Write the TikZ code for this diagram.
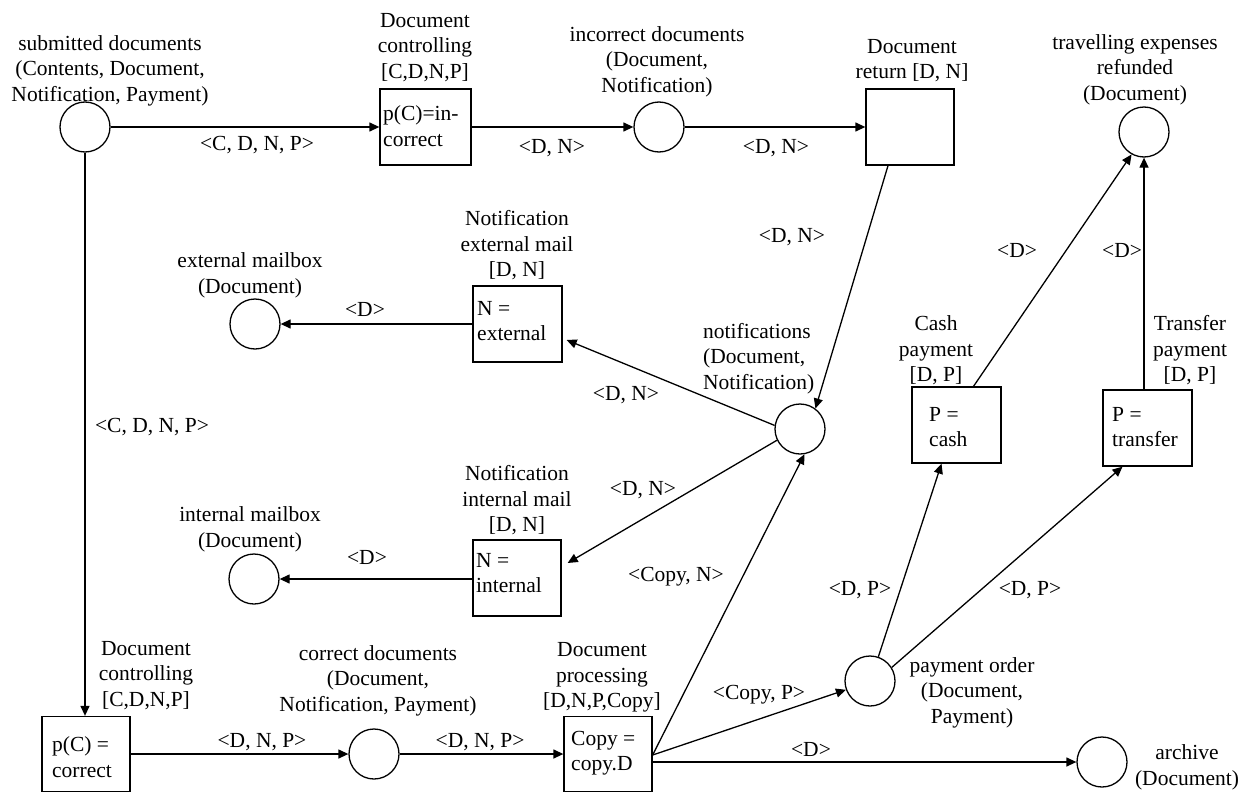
\documentclass[tikz,border=0pt]{standalone}
\usepackage{fontspec}
\setmainfont{Liberation Serif}
\usetikzlibrary{arrows.meta,calc}
\begin{document}
\begin{tikzpicture}[x=1pt,y=-1pt,
  every node/.style={font=\fontsize{21.5}{25.5}\selectfont, inner sep=0pt},
  place/.style={circle, draw, line width=1.3pt, minimum size=50pt},
  trans/.style={rectangle, draw, line width=1.3pt},
  lbl/.style={align=center, yshift=-2.5pt},
  ins/.style={yshift=-2pt},
  boxtxt/.style={align=left, anchor=west},
  arc/.style={line width=1.3pt, -{Triangle[length=10pt,width=9pt]}},
]
\useasboundingbox (0,0) rectangle (1252,792);

% places
\node[place] (sub)   at (85,127)   {};
\node[place] (inc)   at (659,127)  {};
\node[place] (trav)  at (1144,132) {};
\node[place] (extmb) at (255,324)  {};
\node[place] (intmb) at (254,579)  {};
\node[place] (notif) at (800,429)  {};
\node[place] (cd)    at (374,754)  {};
\node[place] (po)    at (870,681)  {};
\node[place] (arch)  at (1102,762) {};

% transitions
\node[trans, minimum width=91pt, minimum height=76pt] (dc1)  at (425.5,127) {};
\node[trans, minimum width=88pt, minimum height=76pt] (ret)  at (910,127)   {};
\node[trans, minimum width=89pt, minimum height=76pt] (nx)   at (517.5,324) {};
\node[trans, minimum width=88pt, minimum height=76pt] (ni)   at (517,578)   {};
\node[trans, minimum width=88pt, minimum height=75pt] (dc2)  at (86,754)    {};
\node[trans, minimum width=88pt, minimum height=75pt] (dp)   at (608,754)   {};
\node[trans, minimum width=89pt, minimum height=76pt] (cash) at (956.5,425) {};
\node[trans, minimum width=89pt, minimum height=76pt] (tr)   at (1147.5,428) {};

% guards inside the transitions
\node[boxtxt] (dc1t)  at (383,126)  {p(C)=in-\\correct};
\node[boxtxt] (dc2t)  at (52,757)   {p(C) =\\correct};
\node[boxtxt] (dpt)   at (571,753)  {Copy =\\copy.D};
\node[boxtxt] (nxt)   at (477,321)  {N =\\external};
\node[boxtxt] (nit)   at (476,573)  {N =\\internal};
\node[boxtxt] (casht) at (929,427)  {P =\\cash};
\node[boxtxt] (trt)   at (1112,427) {P =\\transfer};

% names of places and transitions
\node[lbl] (subl)  at (110,68)  {submitted documents\\(Contents, Document,\\Notification, Payment)};
\node[lbl] (dc1l)  at (425,45)  {Document\\controlling\\{}[C,D,N,P]};
\node[lbl] (incl)  at (657,59)  {incorrect documents\\(Document,\\Notification)};
\node[lbl] (retl)  at (912,58)  {Document\\return [D, N]};
\node[lbl] (travl) at (1135,67) {travelling expenses\\refunded\\(Document)};
\node[lbl] (extl)  at (250,273) {external mailbox\\(Document)};
\node[lbl] (nxl)   at (517,243) {Notification\\external mail\\{}[D, N]};
\node[lbl] (intl)  at (250,527) {internal mailbox\\(Document)};
\node[lbl] (nil)   at (517,498) {Notification\\internal mail\\{}[D, N]};
\node[align=left, anchor=west, yshift=-2.5pt] (notifl) at (703,356) {notifications\\(Document,\\Notification)};
\node[lbl] (cashl) at (936,348) {Cash\\payment\\{}[D, P]};
\node[lbl] (trl)   at (1190,348) {Transfer\\payment\\{}[D, P]};
\node[lbl] (dc2l)  at (146,673) {Document\\controlling\\{}[C,D,N,P]};
\node[lbl] (cdl)   at (378,678) {correct documents\\(Document,\\Notification, Payment)};
\node[lbl] (dpl)   at (602,675) {Document\\processing\\{}[D,N,P,Copy]};
\node[lbl] (pol)   at (972,690) {payment order\\(Document,\\Payment)};
\node[lbl] (archl) at (1187,765) {archive\\(Document)};

% arcs
\draw[arc] (sub) -- (dc1);
\draw[arc] (dc1) -- (inc);
\draw[arc] (inc) -- (ret);
\draw[arc] ($(ret.south)+(-22,0)$) -- (notif.53);
\draw[arc] (notif.172) -- ($(nx.east)+(4,16)$);
\draw[arc] (nx) -- (extmb);
\draw[arc] (notif.206) -- ($(ni.east)+(6,-15)$);
\draw[arc] (ni.west |- intmb.east) -- (intmb.east);
\draw[arc] (sub.south) -- (sub.south |- dc2.north);
\draw[arc] (dc2) -- (cd);
\draw[arc] (cd) -- (dp);
\draw[arc] ($(dp.east)+(0,1)$) -- (notif.280);
\draw[arc] ($(dp.east)+(0,1)$) -- (po.200);
\draw[arc] (dp.east |- arch.west) -- (arch.west);
\draw[arc] (po.71) -- ($(cash.south)+(-15,0)$);
\draw[arc] (po.32) -- ($(tr.south)+(-25,0)$);
\draw[arc] ($(cash.north)+(17,0)$) -- (trav.241);
\draw[arc] (trav.south |- tr.north) -- (trav.south);

% arc inscriptions
\node[ins] (a1)  at (257,143)  {<C, D, N, P>};
\node[ins] (a2)  at (552,146)  {<D, N>};
\node[ins] (a3)  at (776,146)  {<D, N>};
\node[ins] (a4)  at (792,235)  {<D, N>};
\node[ins] (a5)  at (626,393)  {<D, N>};
\node[ins] (a6)  at (365,307)  {<D>};
\node[ins] (a7)  at (643,488)  {<D, N>};
\node[ins] (a8)  at (367,555)  {<D>};
\node[ins] (a9)  at (152,425)  {<C, D, N, P>};
\node[ins] (a10) at (262,740)  {<D, N, P>};
\node[ins] (a11) at (480,740)  {<D, N, P>};
\node[ins] (a12) at (676,575)  {<Copy, N>};
\node[ins] (a13) at (759,693)  {<Copy, P>};
\node[ins] (a14) at (811,747)  {<D>};
\node[ins] (a15) at (860,588)  {<D, P>};
\node[ins] (a16) at (1030,588) {<D, P>};
\node[ins] (a17) at (1017,248) {<D>};
\node[ins] (a18) at (1122,248) {<D>};
\end{tikzpicture}
\end{document}
